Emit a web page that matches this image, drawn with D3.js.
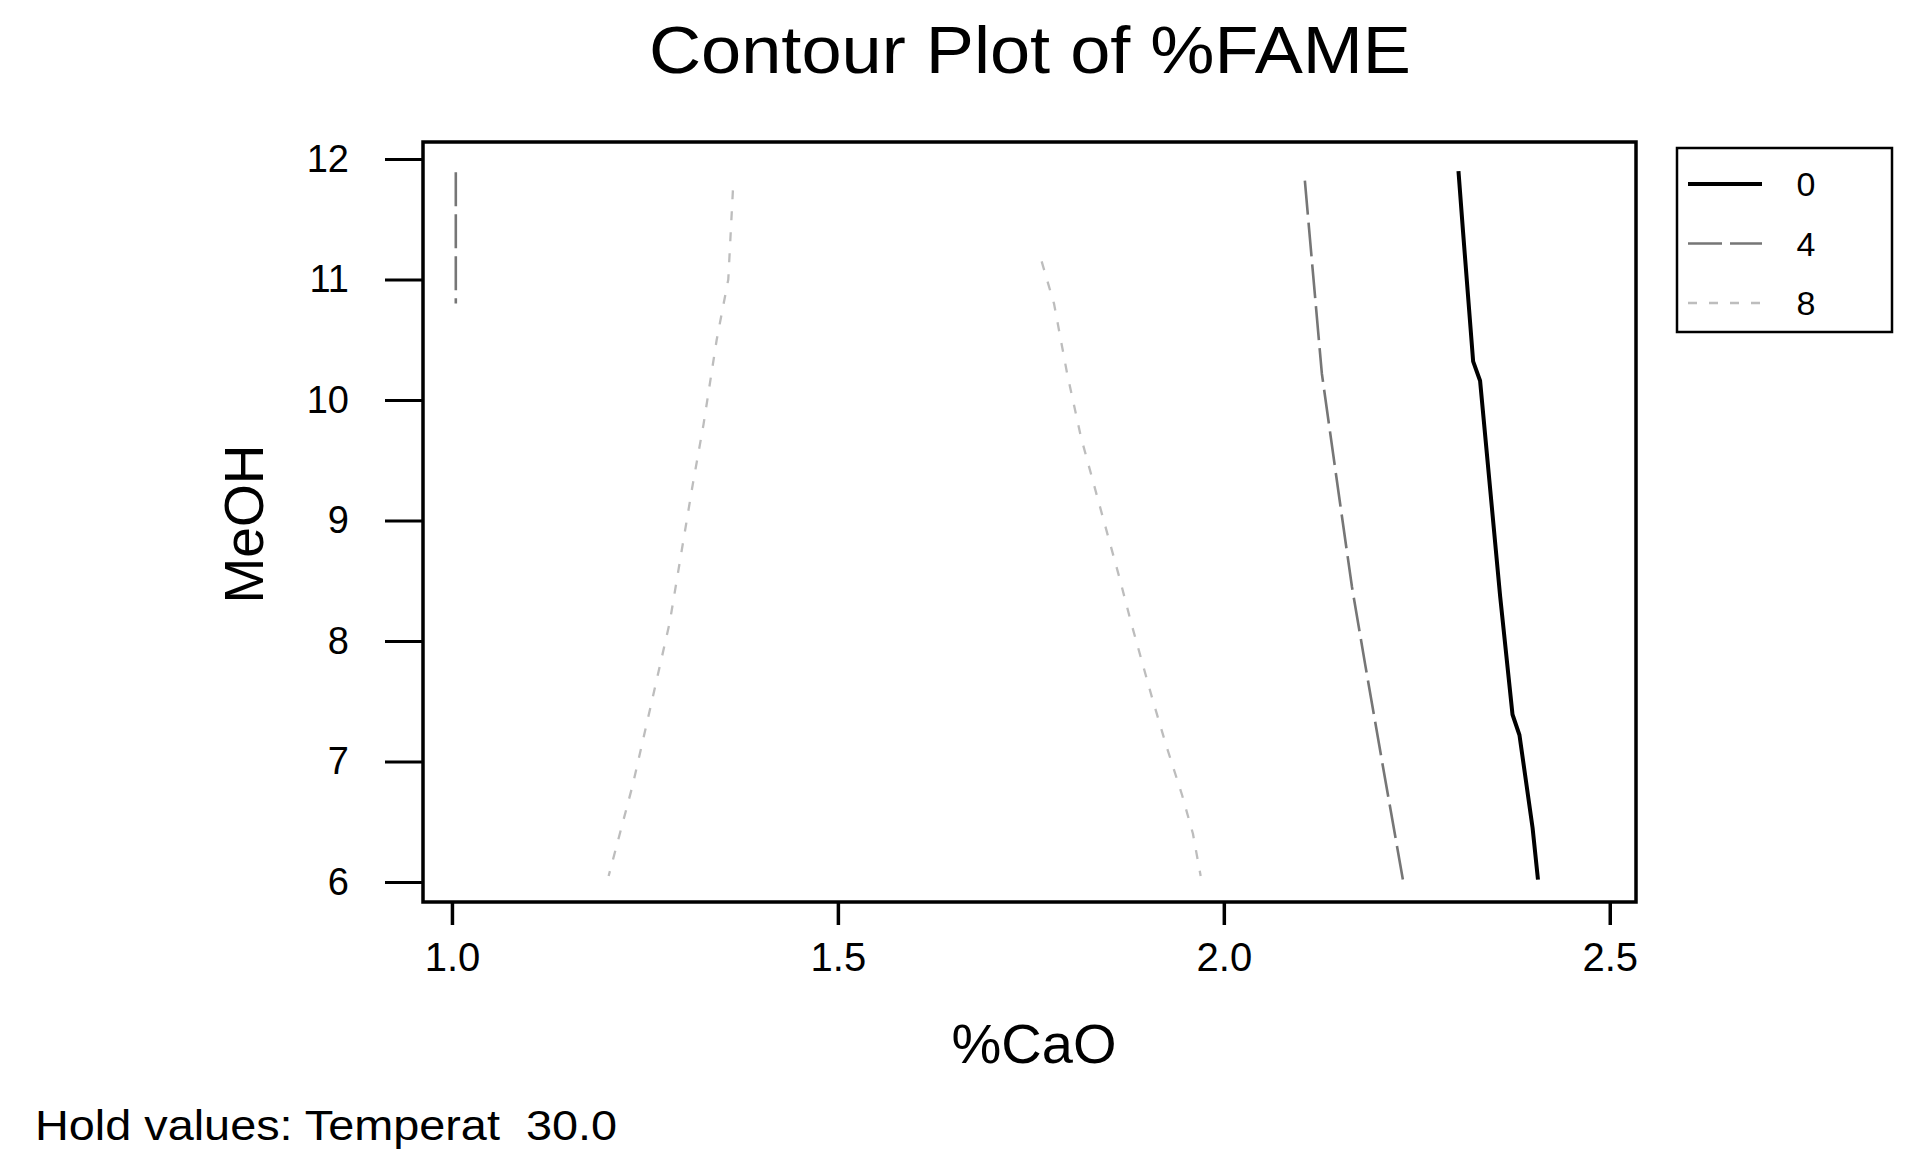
<!DOCTYPE html>
<html>
<head>
<meta charset="utf-8">
<title>Contour Plot of %FAME</title>
<script src="https://cdn.jsdelivr.net/npm/d3@7"></script>
<style>
  html, body { margin: 0; padding: 0; background: #fff; }
  svg { display: block; }
  text { font-family: "Liberation Sans", Arial, Helvetica, sans-serif; fill: #000; white-space: pre; }
</style>
</head>
<body>
<script>
// Contour levels of %FAME shown in the legend
const levels = [0, 4, 8];

// Axis ticks
const xTicks = [1.0, 1.5, 2.0, 2.5];
const yTicks = [6, 7, 8, 9, 10, 11, 12];

// Contour paths as [%CaO, MeOH] pairs, one array per traced line
const level0Line = [
  [2.304, 11.90], [2.310, 11.39], [2.323, 10.32], [2.332, 10.16],
  [2.358, 8.37], [2.374, 7.39], [2.383, 7.22], [2.400, 6.45], [2.407, 6.02]
];
const level4Left = [
  [1.005, 11.89], [1.005, 10.80]
];
const level4Right = [
  [2.105, 11.82], [2.115, 11.09], [2.127, 10.22], [2.150, 9.17],
  [2.166, 8.45], [2.183, 7.81], [2.205, 7.00], [2.232, 6.02]
];
const level8Left = [
  [1.364, 11.74], [1.358, 11.00], [1.343, 10.50], [1.326, 9.80],
  [1.312, 9.30], [1.282, 8.15], [1.259, 7.50], [1.234, 6.80], [1.203, 6.05]
];
const level8Right = [
  [1.764, 11.15], [1.780, 10.80], [1.797, 10.22], [1.815, 9.69],
  [1.838, 9.15], [1.865, 8.52], [1.880, 8.15], [1.907, 7.53],
  [1.925, 7.14], [1.946, 6.72], [1.960, 6.40], [1.970, 6.05]
];

const contourLines = [
  { level: 0, points: level0Line },
  { level: 4, points: level4Left },
  { level: 4, points: level4Right },
  { level: 8, points: level8Left },
  { level: 8, points: level8Right }
];

// Line style for each level
const levelStyle = {
  0: { stroke: "#000000", width: 4, dash: null },
  4: { stroke: "#767676", width: 2.6, dash: "34,8" },
  8: { stroke: "#bdbdbd", width: 2.3, dash: "9,12" }
};

const W = 1921, H = 1167;
const frame = { left: 423, right: 1636, top: 142, bottom: 902 };

const svg = d3.select("body").append("svg")
  .attr("width", W).attr("height", H);

const x = d3.scaleLinear().domain([0.9625, 2.534]).range([frame.left, frame.right]);
const y = d3.scaleLinear().domain([5.834, 12.141]).range([frame.bottom, frame.top]);

// Title
svg.append("text")
  .attr("x", 1030).attr("y", 73)
  .attr("text-anchor", "middle")
  .attr("font-size", 66)
  .attr("textLength", 762)
  .attr("lengthAdjust", "spacingAndGlyphs")
  .text("Contour Plot of %FAME");

// Contour lines
const line = d3.line().x(d => x(d[0])).y(d => y(d[1]));
svg.append("g").selectAll("path")
  .data(contourLines)
  .join("path")
  .attr("d", d => line(d.points))
  .attr("fill", "none")
  .attr("stroke", d => levelStyle[d.level].stroke)
  .attr("stroke-width", d => levelStyle[d.level].width)
  .attr("stroke-dasharray", d => levelStyle[d.level].dash)
  .attr("stroke-linejoin", "round");

// Plot frame
svg.append("rect")
  .attr("x", frame.left).attr("y", frame.top)
  .attr("width", frame.right - frame.left)
  .attr("height", frame.bottom - frame.top)
  .attr("fill", "none").attr("stroke", "#000").attr("stroke-width", 3.5);

// X axis
const xAxis = d3.axisBottom(x).tickValues(xTicks).tickFormat(d3.format(".1f"))
  .tickSize(23).tickPadding(18);
const gx = svg.append("g").attr("transform", `translate(0,${frame.bottom})`).call(xAxis);
gx.select(".domain").remove();
gx.selectAll(".tick line").attr("stroke", "#000").attr("stroke-width", 3.5);
gx.selectAll(".tick text").attr("font-size", 40)
  .attr("font-family", "Liberation Sans, Arial, sans-serif").attr("fill", "#000");

// Y axis
const yAxis = d3.axisLeft(y).tickValues(yTicks).tickFormat(d3.format("d"))
  .tickSize(38).tickPadding(36);
const gy = svg.append("g").attr("transform", `translate(${frame.left},0)`).call(yAxis);
gy.select(".domain").remove();
gy.selectAll(".tick line").attr("stroke", "#000").attr("stroke-width", 3);
gy.selectAll(".tick text").attr("font-size", 38)
  .attr("font-family", "Liberation Sans, Arial, sans-serif").attr("fill", "#000");

// Axis titles
svg.append("text")
  .attr("x", 1034).attr("y", 1063)
  .attr("text-anchor", "middle")
  .attr("font-size", 56)
  .text("%CaO");

svg.append("text")
  .attr("transform", "translate(263,524) rotate(-90)")
  .attr("text-anchor", "middle")
  .attr("font-size", 55)
  .text("MeOH");

// Legend
const legend = svg.append("g");
legend.append("rect")
  .attr("x", 1677).attr("y", 148).attr("width", 215).attr("height", 184)
  .attr("fill", "#fff").attr("stroke", "#000").attr("stroke-width", 2.5);
const legendY = d3.scalePoint().domain(levels).range([184, 303]);
const items = legend.selectAll("g.item").data(levels).join("g").attr("class", "item");
items.append("line")
  .attr("x1", 1688).attr("x2", 1762)
  .attr("y1", d => legendY(d)).attr("y2", d => legendY(d))
  .attr("stroke", d => levelStyle[d].stroke)
  .attr("stroke-width", d => levelStyle[d].width)
  .attr("stroke-dasharray", d => levelStyle[d].dash);
items.append("text")
  .attr("x", 1806).attr("y", d => legendY(d) + 12)
  .attr("text-anchor", "middle")
  .attr("font-size", 34)
  .text(d => d);

// Hold value note
svg.append("text")
  .attr("x", 35).attr("y", 1140)
  .attr("font-size", 43)
  .attr("textLength", 582)
  .attr("lengthAdjust", "spacingAndGlyphs")
  .text("Hold values: Temperat  30.0");
</script>
</body>
</html>
